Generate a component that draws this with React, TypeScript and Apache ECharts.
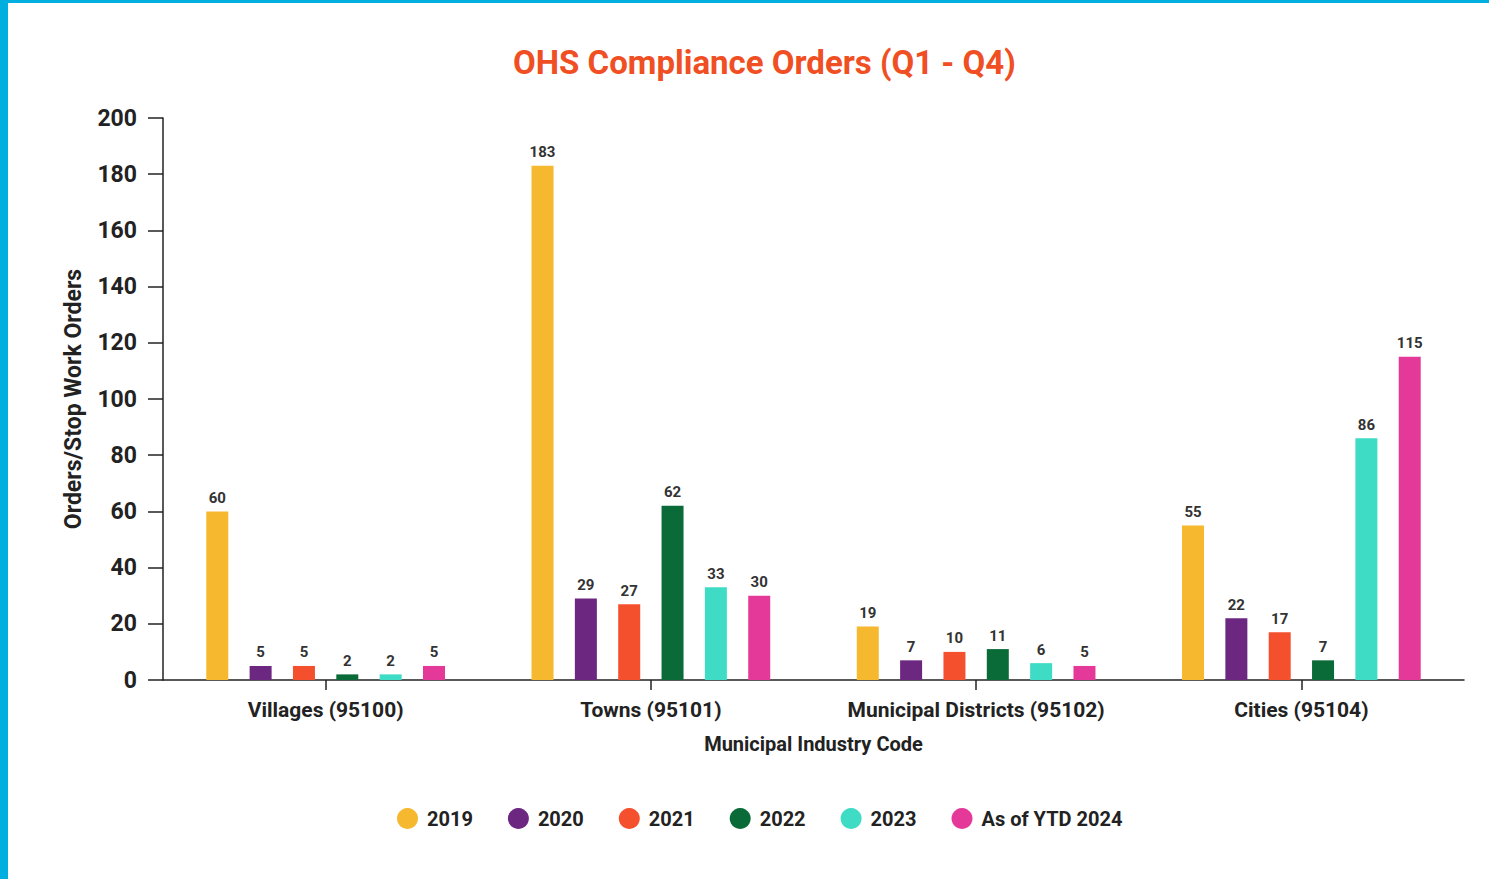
import React, { useEffect, useRef } from "react";
import * as echarts from "echarts";

const categories = ["Villages (95100)", "Towns (95101)", "Municipal Districts (95102)", "Cities (95104)"];
const seriesNames = ["2019", "2020", "2021", "2022", "2023", "As of YTD 2024"];
const s2019 = [60, 183, 19, 55];
const s2020 = [5, 29, 7, 22];
const s2021 = [5, 27, 10, 17];
const s2022 = [2, 62, 11, 7];
const s2023 = [2, 33, 6, 86];
const s2024 = [5, 30, 5, 115];
const seriesValues = [s2019, s2020, s2021, s2022, s2023, s2024];
const colors = ["#F5B82E", "#6C2780", "#F5502E", "#0A6B38", "#3EDCC4", "#E5399A"];

const FONT = "Roboto, 'Noto Sans', sans-serif";

export default function App() {
  const ref = useRef<HTMLDivElement>(null);
  useEffect(() => {
    document.body.style.margin = "0";
    const chart = echarts.init(ref.current!, null, { renderer: "svg" });
    chart.setOption({
      animation: false,
      backgroundColor: "#ffffff",
      title: {
        text: "OHS Compliance Orders (Q1 - Q4)",
        left: 508,
        top: 41,
        textStyle: { color: "#F04E23", fontSize: 33, fontWeight: "bold", fontFamily: FONT },
      },
      graphic: [
        { type: "rect", left: 0, top: 0, shape: { width: 8, height: 879 }, style: { fill: "#00AEDF" } },
        { type: "rect", left: 0, top: 0, shape: { width: 1489, height: 3 }, style: { fill: "#00AEDF" } },
      ],
      legend: {
        bottom: 45,
        left: 392,
        icon: "circle",
        itemWidth: 21,
        itemHeight: 21,
        itemGap: 35,
        data: seriesNames,
        textStyle: { fontSize: 20, fontWeight: "bold", color: "#222", fontFamily: FONT, padding: [0, 0, 0, 4] },
      },
      grid: { left: 163, right: 25, top: 118, bottom: 199 },
      xAxis: {
        type: "category",
        data: categories,
        name: "Municipal Industry Code",
        nameLocation: "middle",
        nameGap: 54,
        nameTextStyle: { fontSize: 20, fontWeight: "bold", color: "#222", fontFamily: FONT },
        axisLine: { lineStyle: { color: "#222", width: 1.5 } },
        axisTick: { show: true, alignWithLabel: true, interval: 0, length: 10, lineStyle: { color: "#222", width: 1.5 } },
        axisLabel: { interval: 0, fontSize: 21, fontWeight: "bold", color: "#222", margin: 19, fontFamily: FONT },
      },
      yAxis: {
        type: "value",
        min: 0,
        max: 200,
        interval: 20,
        name: "Orders/Stop Work Orders",
        nameLocation: "middle",
        nameGap: 78,
        nameTextStyle: { fontSize: 23, fontWeight: "bold", color: "#222", fontFamily: FONT },
        axisLine: { show: true, lineStyle: { color: "#222", width: 1.5 } },
        axisTick: { show: true, length: 15, lineStyle: { color: "#222", width: 1.5 } },
        splitLine: { show: false },
        axisLabel: { fontSize: 23, fontWeight: "bold", color: "#222", margin: 26, fontFamily: FONT },
      },
      series: seriesNames.map((name, i) => ({
        name,
        type: "bar",
        data: seriesValues[i],
        barWidth: 22,
        barGap: "97%",
        itemStyle: { color: colors[i] },
        label: {
          show: true,
          position: "top",
          distance: 6,
          fontSize: 15,
          fontWeight: "bold",
          color: "#333",
          fontFamily: FONT,
        },
      })),
    });
    return () => chart.dispose();
  }, []);
  return <div ref={ref} style={{ width: 1489, height: 879 }} />;
}
